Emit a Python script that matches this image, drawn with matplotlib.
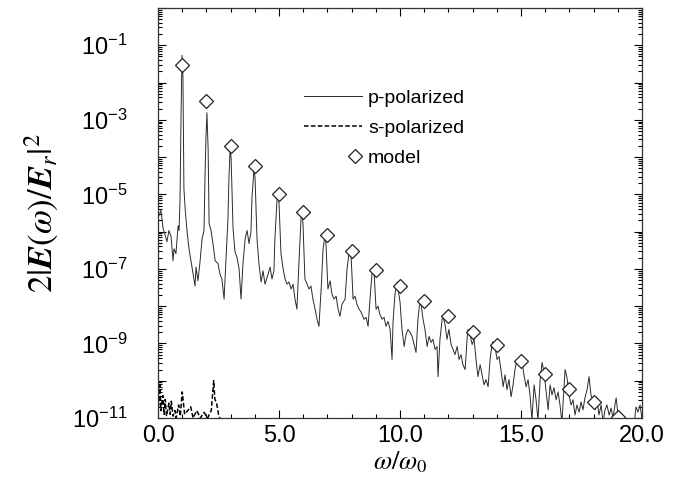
import numpy as np
import matplotlib
matplotlib.use("Agg")
import matplotlib.pyplot as plt
from matplotlib.legend_handler import HandlerLine2DCompound
from matplotlib.ticker import FixedLocator, MultipleLocator, FuncFormatter, LogLocator

# p-polarized spectrum: harmonic order and log10 of 2|E(w)/E_r|^2
p_x = [0.04, 0.12, 0.21, 0.29, 0.37, 0.45, 0.54, 0.62, 0.66, 0.74, 0.83, 0.87, 0.91, 0.95, 0.99,
       1.03, 1.07, 1.12, 1.20, 1.28, 1.36, 1.45, 1.53, 1.57, 1.65, 1.74, 1.82, 1.90, 1.94, 1.98,
       2.02, 2.07, 2.11, 2.19, 2.27, 2.36, 2.48, 2.56, 2.64, 2.73, 2.81, 2.89, 2.93, 2.98,
       3.02, 3.10, 3.18, 3.26, 3.35, 3.43, 3.51, 3.60, 3.68, 3.76, 3.84, 3.88, 3.97,
       4.01, 4.09, 4.17, 4.26, 4.34, 4.42, 4.55, 4.63, 4.71, 4.79, 4.83, 4.92, 4.96,
       5.00, 5.08, 5.17, 5.25, 5.33, 5.41, 5.50, 5.58, 5.66, 5.74, 5.83, 5.91, 5.95,
       5.99, 6.07, 6.16, 6.24, 6.32, 6.40, 6.49, 6.57, 6.65, 6.74, 6.82, 6.90,
       6.94, 7.02, 7.11, 7.19, 7.27, 7.36, 7.44, 7.52, 7.60, 7.73, 7.81, 7.89, 7.93,
       7.98, 8.06, 8.14, 8.22, 8.31, 8.39, 8.51, 8.60, 8.68, 8.76, 8.84, 8.88,
       8.93, 9.01, 9.09, 9.17, 9.26, 9.34, 9.42, 9.50, 9.59, 9.67, 9.71, 9.79, 9.88,
       9.92, 10.00, 10.08, 10.17, 10.25, 10.33, 10.41, 10.50, 10.58, 10.66, 10.74, 10.83,
       10.87, 10.95, 11.03, 11.12, 11.20, 11.28, 11.36, 11.45, 11.53, 11.57, 11.65, 11.74, 11.78,
       11.86, 11.94, 12.02, 12.11, 12.19, 12.27, 12.36, 12.44, 12.52, 12.60, 12.69, 12.77, 12.81,
       12.89, 12.98, 13.06, 13.14, 13.22, 13.31, 13.39, 13.47, 13.55, 13.64, 13.72, 13.80, 13.84,
       13.93, 14.01, 14.09, 14.17, 14.26, 14.34, 14.42, 14.50, 14.59, 14.67, 14.75, 14.83, 14.96,
       15.04, 15.12, 15.21, 15.29, 15.37, 15.45, 15.54, 15.62, 15.70, 15.79, 15.87,
       15.95, 16.03, 16.12, 16.20, 16.28, 16.36, 16.45, 16.53, 16.61, 16.69, 16.78, 16.82,
       16.90, 16.98, 17.07, 17.15, 17.23, 17.31, 17.40, 17.48, 17.56, 17.64, 17.73, 17.81,
       17.89, 17.98, 18.06, 18.14, 18.22, 18.31, 18.39, 18.47, 18.55, 18.64, 18.72, 18.80, 18.88, 18.93,
       19.01, 19.09, 19.30, 19.50, 19.67, 19.75, 19.83, 19.92, 20.00]
p_exp = [-5.57, -5.43, -5.92, -6.08, -6.27, -5.97, -6.14, -6.78, -6.46, -6.59, -5.84, -5.97, -5.11, -2.95, -1.27,
         -1.86, -4.84, -5.38, -6.00, -6.46, -6.78, -7.14, -7.46, -6.95, -7.32, -6.78, -6.19, -5.97, -4.57, -3.49,
         -2.81, -3.76, -5.78, -5.97, -6.32, -6.78, -6.86, -7.14, -7.27, -7.81, -6.73, -5.65, -4.57, -3.76,
         -4.03, -5.92, -6.54, -6.68, -7.00, -7.81, -6.86, -6.19, -5.97, -6.32, -6.00, -5.11, -4.30,
         -4.57, -6.19, -6.86, -7.35, -7.05, -7.41, -7.14, -6.95, -7.27, -7.05, -6.19, -5.11, -5.00,
         -5.24, -6.59, -7.00, -7.27, -7.41, -7.35, -7.54, -7.41, -7.81, -8.08, -6.73, -5.65, -5.46,
         -5.78, -7.27, -7.41, -7.54, -7.46, -7.81, -8.08, -8.35, -8.54, -7.54, -6.46, -6.11,
         -6.32, -7.54, -7.32, -7.68, -7.81, -7.73, -8.08, -8.27, -7.95, -7.81, -7.00, -6.59, -6.51,
         -6.68, -7.81, -7.73, -7.95, -8.08, -8.16, -8.35, -8.30, -8.54, -7.81, -7.14, -7.00,
         -7.14, -8.08, -8.00, -8.22, -8.35, -8.30, -8.54, -8.41, -8.62, -9.43, -8.43, -7.68, -7.35,
         -7.54, -7.89, -8.62, -9.08, -8.76, -8.62, -8.70, -8.81, -9.03, -9.24, -8.35, -7.81,
         -7.95, -8.35, -8.62, -9.08, -8.81, -8.97, -8.89, -9.16, -9.08, -9.89, -8.89, -8.35, -8.27,
         -8.49, -8.89, -8.62, -9.03, -9.16, -9.30, -9.08, -9.43, -9.30, -9.57, -9.70, -8.89, -8.62,
         -8.76, -9.03, -8.89, -9.43, -9.89, -9.57, -9.84, -10.11, -9.97, -10.16, -9.43, -9.03, -8.95,
         -9.11, -9.43, -9.35, -9.70, -10.16, -9.84, -10.24, -9.97, -10.43, -10.11, -9.70, -9.43, -9.35,
         -9.49, -9.84, -10.16, -9.97, -10.38, -11.05, -10.11, -10.51, -11.05, -9.97, -9.51,
         -9.78, -10.24, -10.78, -10.11, -10.38, -10.19, -10.51, -10.30, -10.65, -11.11, -10.11, -9.70,
         -9.92, -10.38, -10.65, -10.51, -10.92, -10.65, -10.84, -10.57, -10.78, -10.46, -10.24, -9.89,
         -10.38, -10.57, -10.78, -10.51, -10.92, -10.65, -11.11, -10.78, -10.65, -10.92, -10.73, -11.00, -10.65, -10.46,
         -10.92, -11.19, -11.19, -11.11, -11.19, -10.70, -10.84, -10.65, -11.05]

# s-polarized spectrum (only visible near the floor at low orders)
s_x = [0.0, 0.08, 0.12, 0.20, 0.25, 0.30, 0.35, 0.45, 0.50, 0.55, 0.62, 0.70, 0.75, 0.85, 0.92,
       1.00, 1.10, 1.35, 1.45, 1.60, 1.75, 1.90, 2.05, 2.20, 2.30, 2.35, 2.42, 2.50, 2.55, 2.65,
       3.00, 20.0]
s_exp = [-10.9, -10.1, -10.8, -10.4, -10.9, -10.5, -10.95, -10.6, -10.9, -10.55, -10.95, -10.8, -11.0, -10.65, -10.95,
         -10.3, -10.9, -10.7, -11.0, -10.8, -11.0, -10.85, -11.0, -10.8, -10.0, -10.5, -10.6, -10.9, -11.0, -11.3,
         -12.0, -13.0]

# model harmonic intensities
model_n = list(range(1, 20))
model_exp = [-1.54, -2.49, -3.70, -4.24, -5.00, -5.46, -6.08, -6.51, -7.03, -7.46,
             -7.86, -8.27, -8.70, -9.05, -9.46, -9.81, -10.22, -10.57, -10.97]

x_ticks = [0, 5, 10, 15, 20]
x_ticklabels = ["0.0", "5.0", "10.0", "15.0", "20.0"]


class RightMarkerHandler(HandlerLine2DCompound):
    # put the legend marker at the right end of the handle, next to the text
    def get_xdata(self, legend, xdescent, ydescent, width, height, fontsize):
        xdata = np.array([-xdescent, -xdescent + width])
        return xdata, np.array([-xdescent + width - 0.35 * fontsize])


plt.rcParams['font.family'] = ['Liberation Sans', 'DejaVu Sans']
plt.rcParams['mathtext.fontset'] = 'custom'
plt.rcParams['mathtext.rm'] = 'Liberation Sans'
plt.rcParams['mathtext.it'] = 'Liberation Sans:italic'
plt.rcParams['mathtext.bf'] = 'Liberation Sans:bold'

fig = plt.figure(figsize=(6.73, 4.98), dpi=100)
ax = fig.add_axes([0.2348, 0.1606, 0.7192, 0.8234])

p_line, = ax.plot(p_x, 10 ** np.array(p_exp), color='#2a2a2a', lw=0.7)
s_line, = ax.plot(s_x, 10 ** np.array(s_exp), color='black', lw=1.1, ls=(0, (3, 1.5)))
m_line, = ax.plot(model_n, 10 ** np.array(model_exp), ls='none', marker='D', ms=7, mfc='white',
                  mec='#222222', mew=0.9)

ax.set_yscale('log')
ax.set_xlim(0, 20)
ax.set_ylim(1e-11, 1)

ax.set_xticks(x_ticks)
ax.set_xticklabels(x_ticklabels)
ax.xaxis.set_minor_locator(MultipleLocator(1))
ax.yaxis.set_major_locator(FixedLocator([10.0 ** e for e in range(-11, 1)]))
ax.yaxis.set_minor_locator(LogLocator(base=10, subs=np.arange(2, 10), numticks=30))
ax.yaxis.set_major_formatter(FuncFormatter(
    lambda v, pos: r'$10^{%d}$' % round(np.log10(v)) if round(np.log10(v)) % 2 != 0 else ''))

ax.tick_params(which='both', direction='in', top=True, right=True, width=0.8)
ax.tick_params(which='major', length=6)
ax.tick_params(which='minor', length=3)
ax.tick_params(axis='x', labelsize=17, pad=5)
ax.tick_params(axis='y', labelsize=17, pad=22)
for sp in ax.spines.values():
    sp.set_linewidth(0.9)
    sp.set_color('#333333')

ax.set_xlabel(r'$\omega/\omega_0$', fontsize=19, math_fontfamily='stix', labelpad=2)
ax.set_ylabel(r'$2|\mathbfit{E}(\omega)/\mathbfit{E}_r|^2$', fontsize=25, math_fontfamily='stix')
ax.yaxis.set_label_coords(-0.2, 0.5)

ax.legend([p_line, s_line, m_line], ['p-polarized', 's-polarized', 'model'],
          handler_map={m_line: RightMarkerHandler()},
          loc='upper left', bbox_to_anchor=(0.265, 0.845), frameon=False, fontsize=14,
          handlelength=3.0, handletextpad=0.3, labelspacing=0.65)

fig.savefig('out.png', dpi=100)
